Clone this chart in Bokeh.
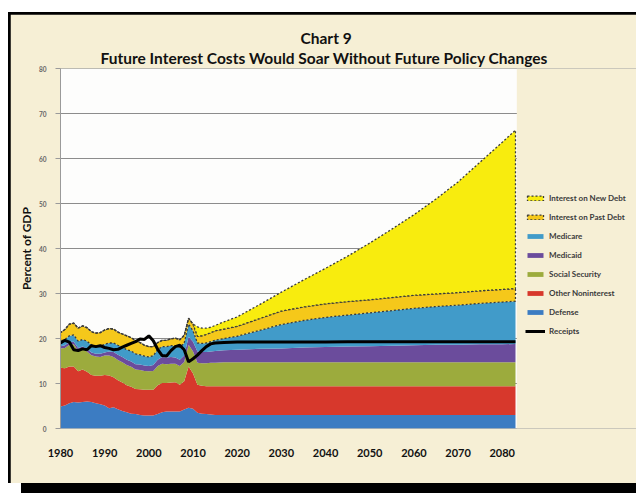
import numpy as np
from bokeh.plotting import figure
from bokeh.layouts import column
from bokeh.models import Legend, LegendItem, FixedTicker, Title, Div, BoxAnnotation
from bokeh.embed import file_html
from bokeh.resources import INLINE

years = list(range(1980, 2011)) + [2011, 2012, 2013, 2014, 2015, 2017, 2020, 2025, 2030, 2035,
                                   2040, 2045, 2050, 2055, 2060, 2065, 2070, 2075, 2080, 2083]

defense = [4.9, 5.1, 5.6, 5.9, 5.8, 5.9, 6.0, 5.9, 5.6, 5.4, 5.1, 4.5, 4.7, 4.3, 3.9, 3.6, 3.3, 3.2, 3.0, 2.9,
           2.9, 2.9, 3.2, 3.6, 3.8, 3.8, 3.8, 3.8, 4.2, 4.6, 4.4,
           3.5, 3.3, 3.2, 3.1, 3.0, 3.0, 3.0, 3.0, 3.0, 3.0, 3.0, 3.0, 3.0, 3.0, 3.0, 3.0, 3.0, 3.0, 3.0, 3.0]
other_nonint = [8.6, 8.3, 8.2, 7.9, 6.9, 7.2, 6.6, 6.0, 6.1, 6.3, 6.8, 7.3, 6.7, 6.4, 6.3, 6.0, 6.0, 5.6, 5.7, 5.7,
                5.7, 5.7, 6.4, 6.5, 6.3, 6.4, 6.5, 5.9, 6.3, 9.2, 7.8,
                6.2, 6.2, 6.2, 6.3, 6.4, 6.4, 6.4, 6.4, 6.4, 6.4, 6.4, 6.4, 6.4, 6.4, 6.4, 6.4, 6.4, 6.4, 6.4, 6.4]
social_security = [4.3, 4.5, 4.8, 4.9, 4.6, 4.5, 4.5, 4.4, 4.3, 4.2, 4.3, 4.4, 4.5, 4.5, 4.5, 4.5, 4.4, 4.3, 4.3, 4.2,
                   4.1, 4.2, 4.3, 4.3, 4.2, 4.2, 4.1, 4.2, 4.3, 4.8, 4.9,
                   4.9, 5.0, 5.1, 5.2, 5.2, 5.3, 5.3, 5.3, 5.3, 5.3, 5.3, 5.3, 5.3, 5.3, 5.3, 5.3, 5.3, 5.3, 5.3, 5.3]
medicaid = [0.5, 0.6, 0.6, 0.6, 0.6, 0.6, 0.6, 0.6, 0.6, 0.7, 0.7, 0.9, 1.1, 1.2, 1.2, 1.2, 1.2, 1.2, 1.2, 1.2,
            1.2, 1.3, 1.4, 1.5, 1.5, 1.5, 1.4, 1.4, 1.4, 1.8, 2.2,
            2.5, 2.5, 2.5, 2.5, 2.6, 2.7, 2.8, 3.0, 3.1, 3.3, 3.4, 3.5, 3.6, 3.7, 3.8, 3.9, 3.9, 4.0, 4.0, 4.1]
medicare = [1.1, 1.3, 1.4, 1.5, 1.5, 1.6, 1.7, 1.7, 1.7, 1.7, 1.8, 1.9, 2.0, 2.1, 2.2, 2.2, 2.3, 2.3, 2.2, 2.1,
            2.0, 2.1, 2.2, 2.3, 2.4, 2.5, 2.6, 2.7, 2.8, 2.8, 2.4,
            1.9, 1.9, 2.0, 2.2, 2.4, 2.6, 3.0, 4.1, 5.3, 6.0, 6.6, 7.0, 7.4, 7.8, 8.2, 8.5, 8.8, 9.1, 9.4, 9.5]
interest_past = [1.9, 2.2, 2.6, 2.6, 2.9, 3.0, 3.0, 2.9, 2.9, 3.0, 3.2, 3.2, 3.1, 2.9, 2.9, 3.1, 3.0, 2.9, 2.7, 2.4,
                 2.3, 2.0, 1.6, 1.4, 1.4, 1.5, 1.7, 1.7, 1.7, 1.3, 1.5,
                 1.5, 1.7, 1.9, 2.0, 2.1, 2.1, 2.2, 2.6, 3.0, 3.0, 3.0, 3.0, 2.9, 2.9, 2.9, 2.8, 2.8, 2.8, 2.8, 2.8]
interest_new = [0.0] * 31 + [2.1, 1.7, 1.4, 1.2, 1.2, 1.6, 2.1, 3.1, 4.2, 6.0, 7.9, 10.1, 12.6, 15.2, 17.9,
                             21.1, 24.6, 28.6, 32.7, 35.2]
receipts = [19.0, 19.6, 19.2, 17.5, 17.3, 17.7, 17.5, 18.4, 18.2, 18.4, 18.0, 17.8, 17.5, 17.6, 18.1, 18.5, 18.9,
            19.3, 19.9, 19.8, 20.6, 19.5, 17.6, 16.2, 16.1, 17.3, 18.2, 18.5, 17.5, 14.8, 15.5,
            16.3, 17.3, 18.2, 18.8, 19.0, 19.1, 19.2, 19.2, 19.2, 19.2, 19.2, 19.3, 19.3, 19.3, 19.3, 19.3,
            19.3, 19.3, 19.3, 19.3]

layer_names = ["Defense", "Other Noninterest", "Social Security", "Medicaid", "Medicare",
               "Interest on Past Debt", "Interest on New Debt"]
layer_values = [defense, other_nonint, social_security, medicaid, medicare, interest_past, interest_new]
layer_colors = ["#3c7cc2", "#d7382c", "#9cab3d", "#6b4c9c", "#419bc9", "#f5c81a", "#f8ec0e"]

y_ticks = [0, 10, 20, 30, 40, 50, 60, 70, 80]
x_ticks = [1980, 1990, 2000, 2010, 2020, 2030, 2040, 2050, 2060, 2070, 2080]

CREAM = "#f6efd5"
FONT = "Lato"
X_END = 1980 + 576 * 103 / 455.0   # plot frame runs on to the right edge; the legend sits there

p = figure(width=626, height=469, x_range=(1980, X_END), y_range=(0, 80),
           output_backend="svg", toolbar_location=None, title=None,
           min_border_left=50, min_border_right=0, min_border_top=54, min_border_bottom=55)
p.border_fill_color = CREAM
p.background_fill_color = "#fdfdfc"
p.outline_line_color = None

x = np.array(years, dtype=float)
cum = np.zeros(len(years))
renderers = {}
for name, vals, col in zip(layer_names, layer_values, layer_colors):
    v = np.array(vals, dtype=float)
    top = cum + v
    if name.startswith("Interest"):
        r = p.patch(np.concatenate([x, x[::-1]]), np.concatenate([top, cum[::-1]]),
                    fill_color=col, line_color="#3a3a3a", line_dash="2 2", line_width=1.3)
    else:
        r = p.varea(x=x, y1=cum, y2=top, fill_color=col)
    renderers[name] = r
    cum = top

rec = p.line(x, receipts, line_color="black", line_width=3)
renderers["Receipts"] = rec

# cream strip to the right of the chart area (holds the legend)
p.add_layout(BoxAnnotation(left=years[-1] + 0.3, fill_color=CREAM, fill_alpha=1,
                           line_color=None, level="annotation"))

# axes
p.yaxis.ticker = FixedTicker(ticks=y_ticks)
p.xaxis.ticker = FixedTicker(ticks=x_ticks)
p.xgrid.grid_line_color = None
p.ygrid.grid_line_color = "#8c8c8c"
p.ygrid.grid_line_width = 1.2
p.yaxis.axis_line_color = "#9a9a9a"
p.xaxis.axis_line_color = None
p.yaxis.major_tick_out = 5
p.yaxis.major_tick_in = 0
p.yaxis.major_tick_line_color = "#9a9a9a"
p.yaxis.minor_tick_line_color = None
p.xaxis.major_tick_line_color = None
p.xaxis.minor_tick_line_color = None
p.yaxis.major_label_text_font = FONT
p.yaxis.major_label_text_font_size = "6.5px"
p.yaxis.major_label_text_font_style = "bold"
p.yaxis.major_label_text_color = "#666666"
p.yaxis.major_label_standoff = 9
p.xaxis.major_label_text_font = FONT
p.xaxis.major_label_text_font_size = "11px"
p.xaxis.major_label_text_font_style = "bold"
p.xaxis.major_label_text_color = "#111111"
p.xaxis.major_label_standoff = 14

# legend inside the (extended) frame
order = ["Interest on New Debt", "Interest on Past Debt", "Medicare", "Medicaid",
         "Social Security", "Other Noninterest", "Defense", "Receipts"]
legend = Legend(items=[LegendItem(label=n, renderers=[renderers[n]]) for n in order],
                location=(465, 92), orientation="vertical",
                background_fill_alpha=0, border_line_color=None,
                padding=0, margin=0, spacing=9,
                glyph_width=20, glyph_height=6, label_height=8, label_standoff=4,
                label_text_font=FONT, label_text_font_size="8px",
                label_text_font_style="bold", label_text_color="#3a3a3a")
p.add_layout(legend, "center")

# titles
p.add_layout(Title(text="Future Interest Costs Would Soar Without Future Policy Changes",
                   align="left", offset=40, standoff=4, text_font=FONT, text_font_style="bold",
                   text_font_size="15.5px", text_color="#111111"), "above")
p.add_layout(Title(text="Chart 9", align="left", offset=240, standoff=-4, text_font=FONT,
                   text_font_style="bold", text_font_size="15.5px", text_color="#111111"), "above")
p.yaxis.axis_label = "Percent of GDP"
p.yaxis.axis_label_text_font = FONT
p.yaxis.axis_label_text_font_style = "bold"
p.yaxis.axis_label_text_font_size = "12px"
p.yaxis.axis_label_text_color = "#111111"
p.yaxis.axis_label_standoff = 2

# photo frame: white margins, black edges, bottom black bar
p.margin = (0, 0, 0, 0)
framed = column(p, margin=(12, 0, 0, 8), spacing=0,
                styles={"background-color": "black", "padding": "2px 0px 0px 2px"})
bar = Div(text="", width=615, height=10, margin=(0, 0, 0, 21),
          styles={"background-color": "black"})
page = column(framed, bar, spacing=0, margin=0, styles={"background-color": "white"})

open("out.html", "w").write(file_html(page, INLINE))
